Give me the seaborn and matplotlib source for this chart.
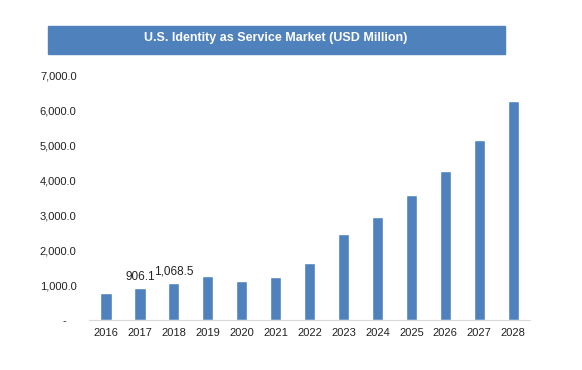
import matplotlib
matplotlib.use('Agg')
import matplotlib.pyplot as plt
import seaborn as sns
import pandas as pd

anos = ['2016', '2017', '2018', '2019', '2020', '2021', '2022',
        '2023', '2024', '2025', '2026', '2027', '2028']
receita = [770, 906.1, 1068.5, 1255, 1115, 1230, 1635,
           2465, 2950, 3560, 4260, 5145, 6260]
rotulos = {'2017': '906.1', '2018': '1,068.5'}
titulo = 'U.S. Identity as Service Market (USD Million)'

AZUL = '#4F81BD'

sns.set_style('white')
plt.rcParams['font.family'] = ['Liberation Sans', 'DejaVu Sans']

df = pd.DataFrame({'ano': anos, 'receita': receita})

fig = plt.figure(figsize=(5.82, 3.70), dpi=100)
ax = fig.add_axes([0.153, 0.135, 0.758, 0.662])

sns.barplot(data=df, x='ano', y='receita', color=AZUL, width=0.33,
            saturation=1, ax=ax)

ax.set_ylim(0, 7000)
ax.set_xlim(-0.5, len(anos) - 0.5)
yt = list(range(0, 7001, 1000))
ax.set_yticks(yt)
ax.set_yticklabels(['-   '] + [f'{v:,.1f}' for v in yt[1:]])
ax.tick_params(axis='both', length=0, labelsize=8, colors='#222222')
ax.tick_params(axis='x', pad=6)
ax.tick_params(axis='y', pad=9)
ax.set_xlabel('')
ax.set_ylabel('')

for s in ['top', 'right', 'left']:
    ax.spines[s].set_visible(False)
ax.spines['bottom'].set_color('#D9D9D9')
ax.spines['bottom'].set_linewidth(0.8)

for i, a in enumerate(anos):
    if a in rotulos:
        ax.text(i, receita[i] + 150, rotulos[a], ha='center', va='bottom',
                fontsize=8.5, color='#222222')

# faixa do titulo
fig.patches.append(plt.Rectangle((48 / 582, 1 - 54 / 370), 457 / 582, 28 / 370,
                                 transform=fig.transFigure, color=AZUL, zorder=0))
fig.text(276 / 582, 1 - 38 / 370, titulo, ha='center', va='center',
         fontsize=9, fontweight='bold', color='white')

plt.savefig('out.png', dpi=100, facecolor='white')
plt.close()
